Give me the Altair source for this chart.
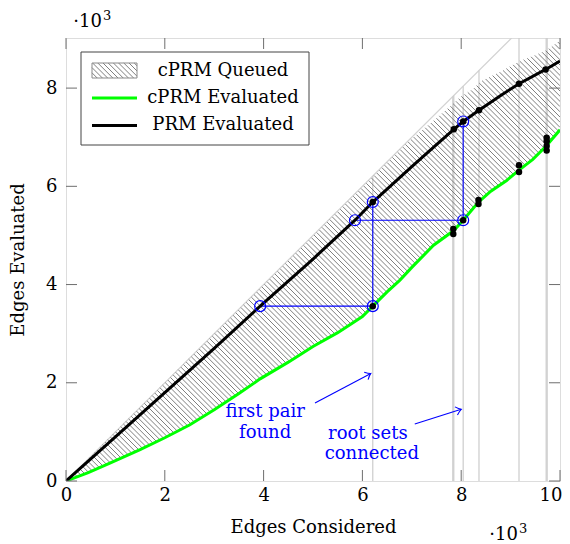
import altair as alt
import pandas as pd
import numpy as np
import math

# ---------------- data (units of 10^3) ----------------
prm_x = [0, 1, 2, 3, 3.93, 5, 5.85, 6.21, 7, 7.5, 7.85, 8.04, 8.36, 8.8, 9.17, 9.71, 10]
prm_y = [0, 0.9, 1.8, 2.7, 3.56, 4.52, 5.31, 5.68, 6.4, 6.85, 7.16, 7.32, 7.55, 7.85, 8.09, 8.38, 8.55]

cprm_x = [0, 0.45, 0.9, 1.5, 2.0, 2.5, 3.0, 3.5, 3.93, 4.5, 5.0, 5.5, 6.0, 6.21, 6.5, 6.76,
          7.0, 7.44, 7.85, 8.04, 8.35, 8.6, 8.92, 9.17, 9.45, 9.72, 10]
cprm_y = [0, 0.17, 0.37, 0.64, 0.88, 1.14, 1.45, 1.78, 2.08, 2.42, 2.74, 3.02, 3.35, 3.56, 3.85, 4.09,
          4.35, 4.8, 5.1, 5.31, 5.68, 5.9, 6.12, 6.33, 6.55, 6.82, 7.15]

queued_x = [0, 6.95, 7.4, 7.77, 8.0, 8.24, 8.4, 8.79, 9.19, 9.5, 9.73, 10]
queued_y = [0, 6.93, 7.3, 7.62, 7.83, 7.98, 8.14, 8.33, 8.55, 8.67, 8.77, 8.97]

event_x = [6.21, 7.83, 7.85, 8.04, 8.36, 9.17, 9.72, 9.74]

prm_dot_x = [6.21, 7.85, 8.04, 8.36, 9.17, 9.71]
cprm_dot_x = [6.21, 7.84, 7.84, 8.04, 8.35, 8.35, 9.17, 9.17, 9.73, 9.73, 9.73, 9.73]
cprm_dot_y = [3.56, 5.03, 5.13, 5.31, 5.64, 5.72, 6.29, 6.43, 6.73, 6.82, 6.92, 6.99]

circle_x = [3.93, 6.21, 6.21, 5.85, 8.04, 8.04]
circle_y = [3.56, 3.56, 5.68, 5.31, 5.31, 7.32]

seg_x = [3.93, 6.21, 5.85, 8.04]
seg_y = [3.56, 3.56, 5.31, 5.31]
seg_x2 = [6.21, 6.21, 8.04, 8.04]
seg_y2 = [3.56, 5.68, 5.31, 7.32]

note_lines = ["first pair", "found", "root sets", "connected"]
note_x = [4.03, 4.03, 6.11, 6.19]
note_y = [1.40, 0.98, 0.96, 0.55]

arrow_tail_x = [5.04, 7.06]
arrow_tail_y = [1.59, 1.16]
arrow_tip_x = [6.17, 8.0]
arrow_tip_y = [2.19, 1.46]

x_ticks = [0, 2, 4, 6, 8, 10]
y_ticks = [0, 2, 4, 6, 8]

legend_labels = ["cPRM Queued", "cPRM Evaluated", "PRM Evaluated"]

# ---------------- layout ----------------
W, H = 494, 443
XMAX, YMAX = 10, 9.02
sx, sy = W / XMAX, H / YMAX
FONT = "DejaVu Serif"
FS = 18
BLUE = "#0000ff"
GREEN = "#00ff00"
HATCH = "#707070"
xs = alt.Scale(domain=[0, XMAX], nice=False, zero=False)
ys = alt.Scale(domain=[0, YMAX], nice=False, zero=False)

# ---------------- hatch segments for queued region ----------------
grid = np.linspace(0, XMAX, 4001)
U = np.interp(grid, queued_x, queued_y)
L = np.interp(grid, cprm_x, cprm_y)
gu = grid * sx + U * sy
gl = grid * sx + L * sy
rows = []
spacing = 5.2
k = spacing
while k < gu[-1]:
    xu = float(np.interp(k, gu, grid))
    yu = float(np.interp(xu, queued_x, queued_y))
    if k <= gl[-1]:
        xl = float(np.interp(k, gl, grid))
        yl = float(np.interp(xl, cprm_x, cprm_y))
    else:
        xl = XMAX
        yl = (k - XMAX * sx) / sy
    rows.append({"x": xu, "y": yu, "x2": xl, "y2": yl})
    k += spacing
hatch_df = pd.DataFrame(rows)

axis_x = alt.Axis(values=x_ticks, ticks=False, domain=False, grid=False, labelFont=FONT,
                  labelFontSize=FS, labelColor="black", labelPadding=5, labelFlush=False,
                  labelAlign={"condition": {"test": "datum.value == 10", "value": "right"},
                              "value": "center"},
                  labelOffset={"condition": {"test": "datum.value == 10", "value": 2},
                               "value": 0},
                  title="Edges Considered",
                  titleFont=FONT, titleFontSize=FS, titleFontWeight="normal", titleColor="black",
                  titlePadding=14)
axis_y = alt.Axis(values=y_ticks, ticks=False, domain=False, grid=False, labelFont=FONT,
                  labelFontSize=FS, labelColor="black", labelPadding=9, labelFlush=False,
                  title="Edges Evaluated",
                  titleFont=FONT, titleFontSize=FS, titleFontWeight="normal", titleColor="black",
                  titlePadding=18)

# diagonal y = x
diag = alt.Chart(pd.DataFrame({"x": [0], "y": [0], "x2": [YMAX], "y2": [YMAX]})).mark_rule(
    color="#d2d2d2", strokeWidth=1.2, clip=True).encode(
    x=alt.X("x:Q", scale=xs, axis=axis_x), y=alt.Y("y:Q", scale=ys, axis=axis_y),
    x2="x2:Q", y2="y2:Q")

ev_df = pd.DataFrame({"x": event_x, "y": [0] * len(event_x),
                      "y2": [min(v, YMAX) for v in event_x]})
events = alt.Chart(ev_df).mark_rule(color="#cccccc", strokeWidth=1.2, clip=True).encode(
    x=alt.X("x:Q", scale=xs), y=alt.Y("y:Q", scale=ys), y2="y2:Q")

hatch = alt.Chart(hatch_df).mark_rule(color=HATCH, strokeWidth=0.9, clip=True).encode(
    x=alt.X("x:Q", scale=xs), y=alt.Y("y:Q", scale=ys), x2="x2:Q", y2="y2:Q")

seg_df = pd.DataFrame({"x": seg_x, "y": seg_y, "x2": seg_x2, "y2": seg_y2})
segs = alt.Chart(seg_df).mark_rule(color=BLUE, strokeWidth=1.1).encode(
    x=alt.X("x:Q", scale=xs), y=alt.Y("y:Q", scale=ys), x2="x2:Q", y2="y2:Q")

green = alt.Chart(pd.DataFrame({"x": cprm_x, "y": cprm_y})).mark_line(
    color=GREEN, strokeWidth=3, clip=True).encode(
    x=alt.X("x:Q", scale=xs), y=alt.Y("y:Q", scale=ys), order="x:Q")

black = alt.Chart(pd.DataFrame({"x": prm_x, "y": prm_y})).mark_line(
    color="black", strokeWidth=3, clip=True).encode(
    x=alt.X("x:Q", scale=xs), y=alt.Y("y:Q", scale=ys), order="x:Q")

dots_df = pd.DataFrame({
    "x": prm_dot_x + cprm_dot_x,
    "y": [float(np.interp(v, prm_x, prm_y)) for v in prm_dot_x] + cprm_dot_y})
dots = alt.Chart(dots_df).mark_circle(color="black", size=42, opacity=1).encode(
    x=alt.X("x:Q", scale=xs), y=alt.Y("y:Q", scale=ys))

circles = alt.Chart(pd.DataFrame({"x": circle_x, "y": circle_y})).mark_point(
    shape="circle", filled=False, color=BLUE, size=120, strokeWidth=1.2, opacity=1).encode(
    x=alt.X("x:Q", scale=xs), y=alt.Y("y:Q", scale=ys))

notes = alt.Chart(pd.DataFrame({"t": note_lines, "x": note_x, "y": note_y})).mark_text(
    font=FONT, fontSize=FS, color=BLUE, align="center", baseline="middle").encode(
    x=alt.X("x:Q", scale=xs), y=alt.Y("y:Q", scale=ys), text="t:N")

arr_df = pd.DataFrame({"x": arrow_tail_x, "y": arrow_tail_y, "x2": arrow_tip_x, "y2": arrow_tip_y})
arrows = alt.Chart(arr_df).mark_rule(color=BLUE, strokeWidth=1.1).encode(
    x=alt.X("x:Q", scale=xs), y=alt.Y("y:Q", scale=ys), x2="x2:Q", y2="y2:Q")
heads = []
for tx, ty, hx, hy in zip(arrow_tail_x, arrow_tail_y, arrow_tip_x, arrow_tip_y):
    ang = math.degrees(math.atan2(-(hy - ty) * sy, (hx - tx) * sx)) % 360
    heads.append(alt.Chart(pd.DataFrame({"x": [hx], "y": [hy]})).mark_point(
        shape="M -1 -0.8 Q -0.4 -0.2 0 0 Q -0.4 0.2 -1 0.8", filled=False, color=BLUE,
        size=110, strokeWidth=1.1, angle=ang, opacity=1).encode(
        x=alt.X("x:Q", scale=xs), y=alt.Y("y:Q", scale=ys)))

# tick marks inside on all four sides
TL = 11
tx_df = pd.DataFrame({"v": x_ticks})
ty_df = pd.DataFrame({"v": y_ticks})
tick_col = "#6e6e6e"
ticks = [
    alt.Chart(tx_df).mark_rule(color=tick_col, strokeWidth=1).encode(
        x=alt.X("v:Q", scale=xs), y=alt.value(H), y2=alt.value(H - TL)),
    alt.Chart(tx_df).mark_rule(color=tick_col, strokeWidth=1).encode(
        x=alt.X("v:Q", scale=xs), y=alt.value(0), y2=alt.value(TL)),
    alt.Chart(ty_df).mark_rule(color=tick_col, strokeWidth=1).encode(
        y=alt.Y("v:Q", scale=ys), x=alt.value(0), x2=alt.value(TL)),
    alt.Chart(ty_df).mark_rule(color=tick_col, strokeWidth=1).encode(
        y=alt.Y("v:Q", scale=ys), x=alt.value(W), x2=alt.value(W - TL)),
]

# multipliers ·10^3 (top-left and bottom-right)
one = pd.DataFrame({"a": [0]})
def multiplier(cx, base_y):
    return [
        alt.Chart(one).mark_text(text="·10", font=FONT, fontSize=FS, color="black",
                                 align="right", baseline="alphabetic").encode(
            x=alt.value(cx + 5), y=alt.value(base_y)),
        alt.Chart(one).mark_text(text="3", font=FONT, fontSize=13, color="black",
                                 align="left", baseline="alphabetic").encode(
            x=alt.value(cx + 6), y=alt.value(base_y - 7)),
    ]
mult = multiplier(31, -11) + multiplier(447, 502)

# ---------------- custom legend ----------------
LX0, LX1, LY0, LY1 = 15, 243, 14, 107
legend_box = alt.Chart(one).mark_rect(fill="white", stroke="#444444", strokeWidth=1).encode(
    x=alt.value(LX0), x2=alt.value(LX1), y=alt.value(LY0), y2=alt.value(LY1))
SW0, SW1, SH0, SH1 = 26, 71, 25, 40
sw_rows = []
step = 5.2
c = SW0 - (SH1 - SH0)
while c < SW1:
    xa, ya = c, SH0
    xb, yb = c + (SH1 - SH0), SH1
    if xa < SW0:
        ya = SH0 + (SW0 - xa); xa = SW0
    if xb > SW1:
        yb = SH1 - (xb - SW1); xb = SW1
    if xb > xa:
        sw_rows.append({"x": xa, "y": ya, "x2": xb, "y2": yb})
    c += step
sw_df = pd.DataFrame(sw_rows)
swatch_hatch = alt.Chart(sw_df).mark_rule(color=HATCH, strokeWidth=0.9).encode(
    x=alt.X("x:Q", scale=None), y=alt.Y("y:Q", scale=None),
    x2="x2:Q", y2="y2:Q")
swatch_box = alt.Chart(one).mark_rect(fill="transparent", stroke="#8a8a8a", strokeWidth=1).encode(
    x=alt.value(SW0), x2=alt.value(SW1), y=alt.value(SH0), y2=alt.value(SH1))
leg_green = alt.Chart(one).mark_rule(color=GREEN, strokeWidth=3).encode(
    x=alt.value(26), x2=alt.value(71), y=alt.value(60))
leg_black = alt.Chart(one).mark_rule(color="black", strokeWidth=3).encode(
    x=alt.value(26), x2=alt.value(71), y=alt.value(87.5))
leg_text_df = pd.DataFrame({"t": legend_labels, "py": [32.5, 59.5, 87]})
leg_text = alt.Chart(leg_text_df).mark_text(font=FONT, fontSize=FS, color="black",
                                            align="center", baseline="middle").encode(
    x=alt.value(157), y=alt.Y("py:Q", scale=None), text="t:N")

chart = alt.layer(
    diag, events, hatch, segs, green, black, dots, circles, arrows, *heads, notes,
    *ticks, *mult, legend_box, swatch_hatch, swatch_box, leg_green, leg_black, leg_text
).properties(
    width=W, height=H,
    autosize=alt.AutoSizeParams(type="none"),
    padding={"left": 58, "top": 30, "right": 2, "bottom": 66},
).configure_view(stroke="black", strokeWidth=1.2).configure(background="white")

chart.save("out.html", embed_options={"renderer": "svg", "actions": False})
